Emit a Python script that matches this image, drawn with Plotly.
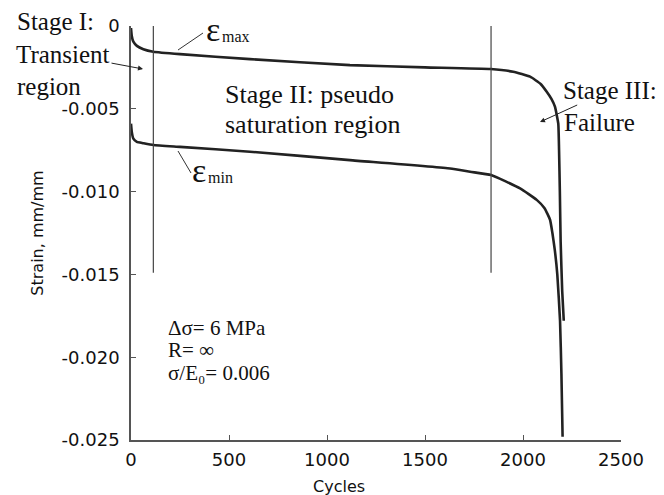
import plotly.graph_objects as go

# ---------------- data ----------------
emax_cycles = [0, 4, 12, 30, 63, 114, 250, 607, 1117, 1500, 1835, 1950, 2036, 2090, 2121,
               2145, 2163, 2180, 2184, 2188, 2192, 2200, 2208]
emax_strain = [-0.00012, -0.0006, -0.00095, -0.0012, -0.0014, -0.00155, -0.0017, -0.002,
               -0.00236, -0.0025, -0.0026, -0.00276, -0.00306, -0.0035, -0.00397,
               -0.0044, -0.00487, -0.0059, -0.0075, -0.0100, -0.0130, -0.0160, -0.0178]

emin_cycles = [0, 4, 12, 30, 63, 114, 250, 607, 1117, 1628, 1730, 1837, 1985, 2070, 2110,
               2138, 2150, 2162, 2175, 2189, 2196, 2202]
emin_strain = [-0.0059, -0.0064, -0.0068, -0.0070, -0.00708, -0.00719, -0.0073, -0.00759,
               -0.0081, -0.0086, -0.0088, -0.0090, -0.0098, -0.0105, -0.0110,
               -0.0117, -0.0125, -0.0135, -0.0150, -0.0178, -0.0210, -0.0248]

stage_bounds = [114, 1837]
stage_line_strain = [0.0, -0.0149]

x_tick_vals = [0, 500, 1000, 1500, 2000, 2500]
x_tick_labels = ["0", "500", "1000", "1500", "2000", "2500"]
y_tick_vals = [0, -0.005, -0.010, -0.015, -0.020, -0.025]
y_tick_labels = ["0", "-0.005", "-0.010", "-0.015", "-0.020", "-0.025"]

# ---------------- layout helpers ----------------
W, H = 664, 495
L, R, T, B = 131, 43, 26, 55
PW, PH = W - L - R, H - T - B


def px(x):
    return (x - L) / PW


def py(y):
    return 1 - (y - T) / PH


SERIF = "Liberation Serif"
SANS = "DejaVu Sans"
CURVE = "#222222"

fig = go.Figure()
for xs, ys in [(emax_cycles, emax_strain), (emin_cycles, emin_strain)]:
    fig.add_trace(go.Scatter(x=xs, y=ys, mode="lines",
                             line=dict(color=CURVE, width=2.6, shape="spline", smoothing=0.4),
                             showlegend=False, hoverinfo="skip"))
for xb in stage_bounds:
    fig.add_trace(go.Scatter(x=[xb, xb], y=stage_line_strain, mode="lines",
                             line=dict(color="#444444", width=1.2),
                             showlegend=False, hoverinfo="skip"))

annotations = []


def text(s, x, y, size, font=SERIF, xanchor="left"):
    annotations.append(dict(text=s, x=px(x), y=py(y), xref="paper", yref="paper",
                            xanchor=xanchor, yanchor="middle", align="left", showarrow=False,
                            font=dict(family=font, size=size, color="#111111")))


def text_arrow(s, center, head, size):
    annotations.append(dict(text=s, x=px(head[0]), y=py(head[1]), xref="paper", yref="paper",
                            ax=center[0] - head[0], ay=center[1] - head[1], showarrow=True,
                            arrowhead=2, arrowsize=1.0, arrowwidth=1, arrowcolor="#222222",
                            font=dict(family=SERIF, size=size, color="#111111")))


text("Stage I:", 15, 22, 25)
text_arrow("Transient", (63, 54), (143, 69), 25)
text("region", 15, 86, 25)
text("Stage II: pseudo", 223, 94, 26)
text("saturation region", 223, 125, 26)
text_arrow("Stage III:", (610, 90), (540, 122), 25)
text("Failure", 562, 122, 25)
text("ε", 204, 29.5, 34)
text("max", 220, 36, 16)
text("ε", 190, 170.5, 34)
text("min", 206, 177, 16)
text("Δσ= 6 MPa", 166, 328, 21)
text("R= ∞", 166, 350, 21)
text("σ/E₀= 0.006", 166, 373, 21)
text("Cycles", 339, 486, 16, font=SANS, xanchor="center")

shapes = []
for (x0, y0, x1, y1) in [(178, 50, 203, 33), (178, 151, 191, 173)]:
    shapes.append(dict(type="line", xref="paper", yref="paper",
                       x0=px(x0), y0=py(y0), x1=px(x1), y1=py(y1),
                       line=dict(color="#333333", width=1)))

axis_common = dict(showgrid=False, zeroline=False, showline=True, linecolor="#555555",
                   linewidth=1.5, ticks="inside", ticklen=5, tickwidth=1.2, tickcolor="#555555",
                   tickfont=dict(family=SANS, size=18, color="#111111"))

fig.update_layout(
    width=W, height=H, margin=dict(l=L, r=R, t=T, b=B),
    paper_bgcolor="white", plot_bgcolor="white",
    xaxis=dict(range=[0, 2500], tickvals=x_tick_vals, ticktext=x_tick_labels,
               ticklabelstandoff=3, **axis_common),
    yaxis=dict(range=[-0.025, 0], tickvals=y_tick_vals, ticktext=y_tick_labels,
               ticklabelstandoff=6,
               title=dict(text="Strain, mm/mm", standoff=14,
                          font=dict(family=SANS, size=16, color="#111111")),
               **axis_common),
    annotations=annotations, shapes=shapes,
)

fig.write_html("out.html")
